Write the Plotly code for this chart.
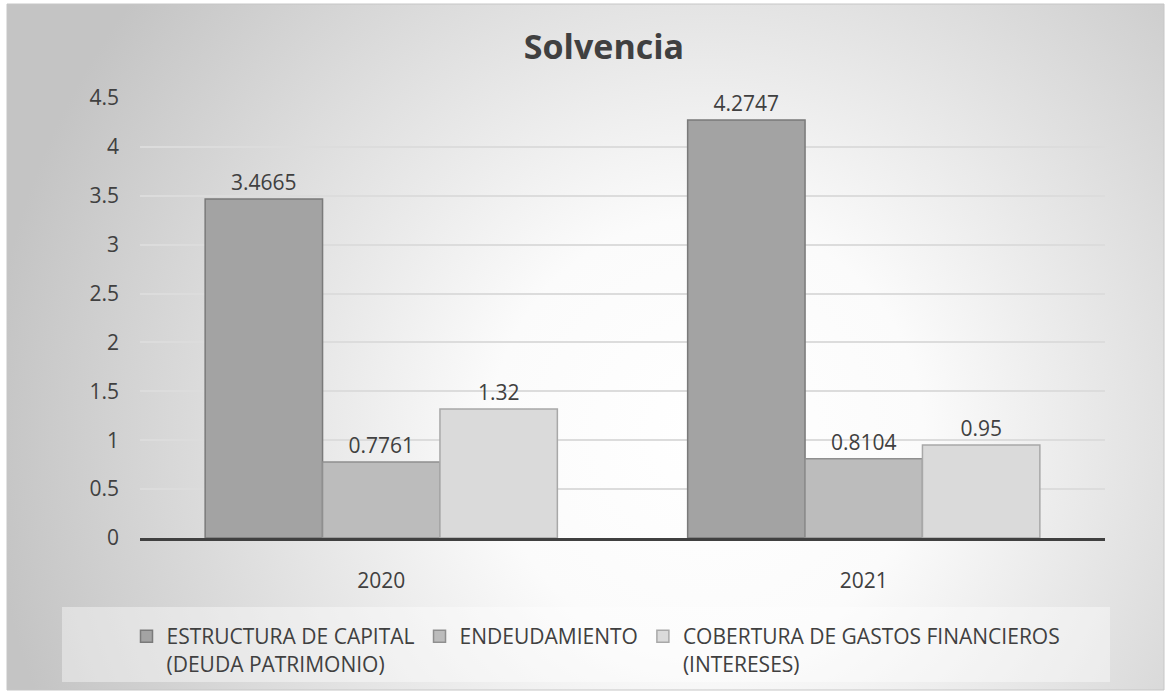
import base64
import plotly.graph_objects as go

categories = ["2020", "2021"]
series_names = [
    "ESTRUCTURA DE CAPITAL<br>(DEUDA PATRIMONIO)",
    "ENDEUDAMIENTO",
    "COBERTURA DE GASTOS FINANCIEROS<br>(INTERESES)",
]
estructura = [3.4665, 4.2747]
endeudamiento = [0.7761, 0.8104]
cobertura = [1.32, 0.95]
label_estructura = ["3.4665", "4.2747"]
label_endeudamiento = ["0.7761", "0.8104"]
label_cobertura = ["1.32", "0.95"]
y_ticks = [0, 0.5, 1, 1.5, 2, 2.5, 3, 3.5, 4, 4.5]
y_tick_text = ["0", "0.5", "1", "1.5", "2", "2.5", "3", "3.5", "4", "4.5"]

W, H = 1171, 697
ML, MR, MT, MB = 140, 66, 98, 159
PW, PH = W - ML - MR, H - MT - MB

FONT = "Open Sans"
TXT = "#404040"
FS = 21

fills = ["#a3a3a3", "#bcbcbc", "#dadada"]
lines = ["#7a7a7a", "#8f8f8f", "#a8a8a8"]
values = [estructura, endeudamiento, cobertura]
labels = [label_estructura, label_endeudamiento, label_cobertura]

fig = go.Figure()
for name, vals, lab, fc, lc in zip(series_names, values, labels, fills, lines):
    fig.add_trace(go.Bar(
        x=categories, y=vals, name=name, text=lab,
        textposition="outside", cliponaxis=False,
        textfont=dict(family=FONT, size=FS, color=TXT),
        marker=dict(color=fc, line=dict(color=lc, width=1.5)),
        hoverinfo="x+y",
    ))

svg = (
    "<svg xmlns='http://www.w3.org/2000/svg' width='1157' height='686' "
    "viewBox='0 0 1157 686' preserveAspectRatio='none'>"
    "<defs><radialGradient id='g' gradientUnits='userSpaceOnUse' cx='700' cy='430' r='720'>"
    "<stop offset='0' stop-color='#ffffff'/>"
    "<stop offset='0.3' stop-color='#fbfbfb'/>"
    "<stop offset='1' stop-color='#c4c4c4'/>"
    "</radialGradient></defs>"
    "<rect width='1157' height='686' fill='url(#g)'/></svg>"
)
src = "data:image/svg+xml;base64," + base64.b64encode(svg.encode()).decode()

bx0, bx1, by0, by1 = 7, 1164, 4, 690
px = lambda v: (v - ML) / PW
py = lambda v: (H - MB - v) / PH

fig.update_layout(
    width=W, height=H,
    margin=dict(l=ML, r=MR, t=MT, b=MB, pad=0),
    paper_bgcolor="white",
    plot_bgcolor="rgba(0,0,0,0)",
    barmode="group", bargap=0.27, bargroupgap=0,
    font=dict(family=FONT, size=FS, color=TXT),
    title=dict(text="<b>Solvencia</b>", x=604 / W, xref="container", xanchor="center",
               y=1 - 47 / H, yanchor="middle",
               font=dict(family=FONT, size=34, color=TXT)),
    images=[dict(source=src, xref="paper", yref="paper",
                 x=px(bx0), y=py(by0), sizex=px(bx1) - px(bx0), sizey=py(by0) - py(by1),
                 xanchor="left", yanchor="top", sizing="stretch", layer="below")],
    shapes=[
        dict(type="rect", xref="paper", yref="paper", layer="below",
             x0=px(62), x1=px(1110), y0=py(607), y1=py(682),
             fillcolor="rgba(255,255,255,0.4)", line=dict(width=0)),
        dict(type="rect", xref="paper", yref="paper", layer="above",
             x0=px(bx0), x1=px(bx1), y0=py(by0), y1=py(by1),
             fillcolor="rgba(0,0,0,0)", line=dict(color="#c6c6c6", width=1)),
    ],
    legend=dict(orientation="h", x=(596 - ML) / PW, xanchor="center",
                y=py(616), yanchor="top",
                font=dict(family=FONT, size=FS, color=TXT),
                bgcolor="rgba(0,0,0,0)", itemwidth=30,
                traceorder="normal", valign="top"),
    xaxis=dict(showgrid=False, showline=True, linecolor="#404040", linewidth=3,
               ticks="", ticklabelstandoff=22,
               tickfont=dict(family=FONT, size=FS, color=TXT)),
    yaxis=dict(range=[0, 4.5], tickvals=y_ticks, ticktext=y_tick_text,
               showgrid=True, gridcolor="#dcdcdc", gridwidth=1.5,
               zeroline=False, showline=False, ticks="", ticklabelstandoff=20,
               tickfont=dict(family=FONT, size=FS, color=TXT)),
)

fig.write_html("out.html", config={"displayModeBar": False},
               post_script="document.body.style.margin='0';")
